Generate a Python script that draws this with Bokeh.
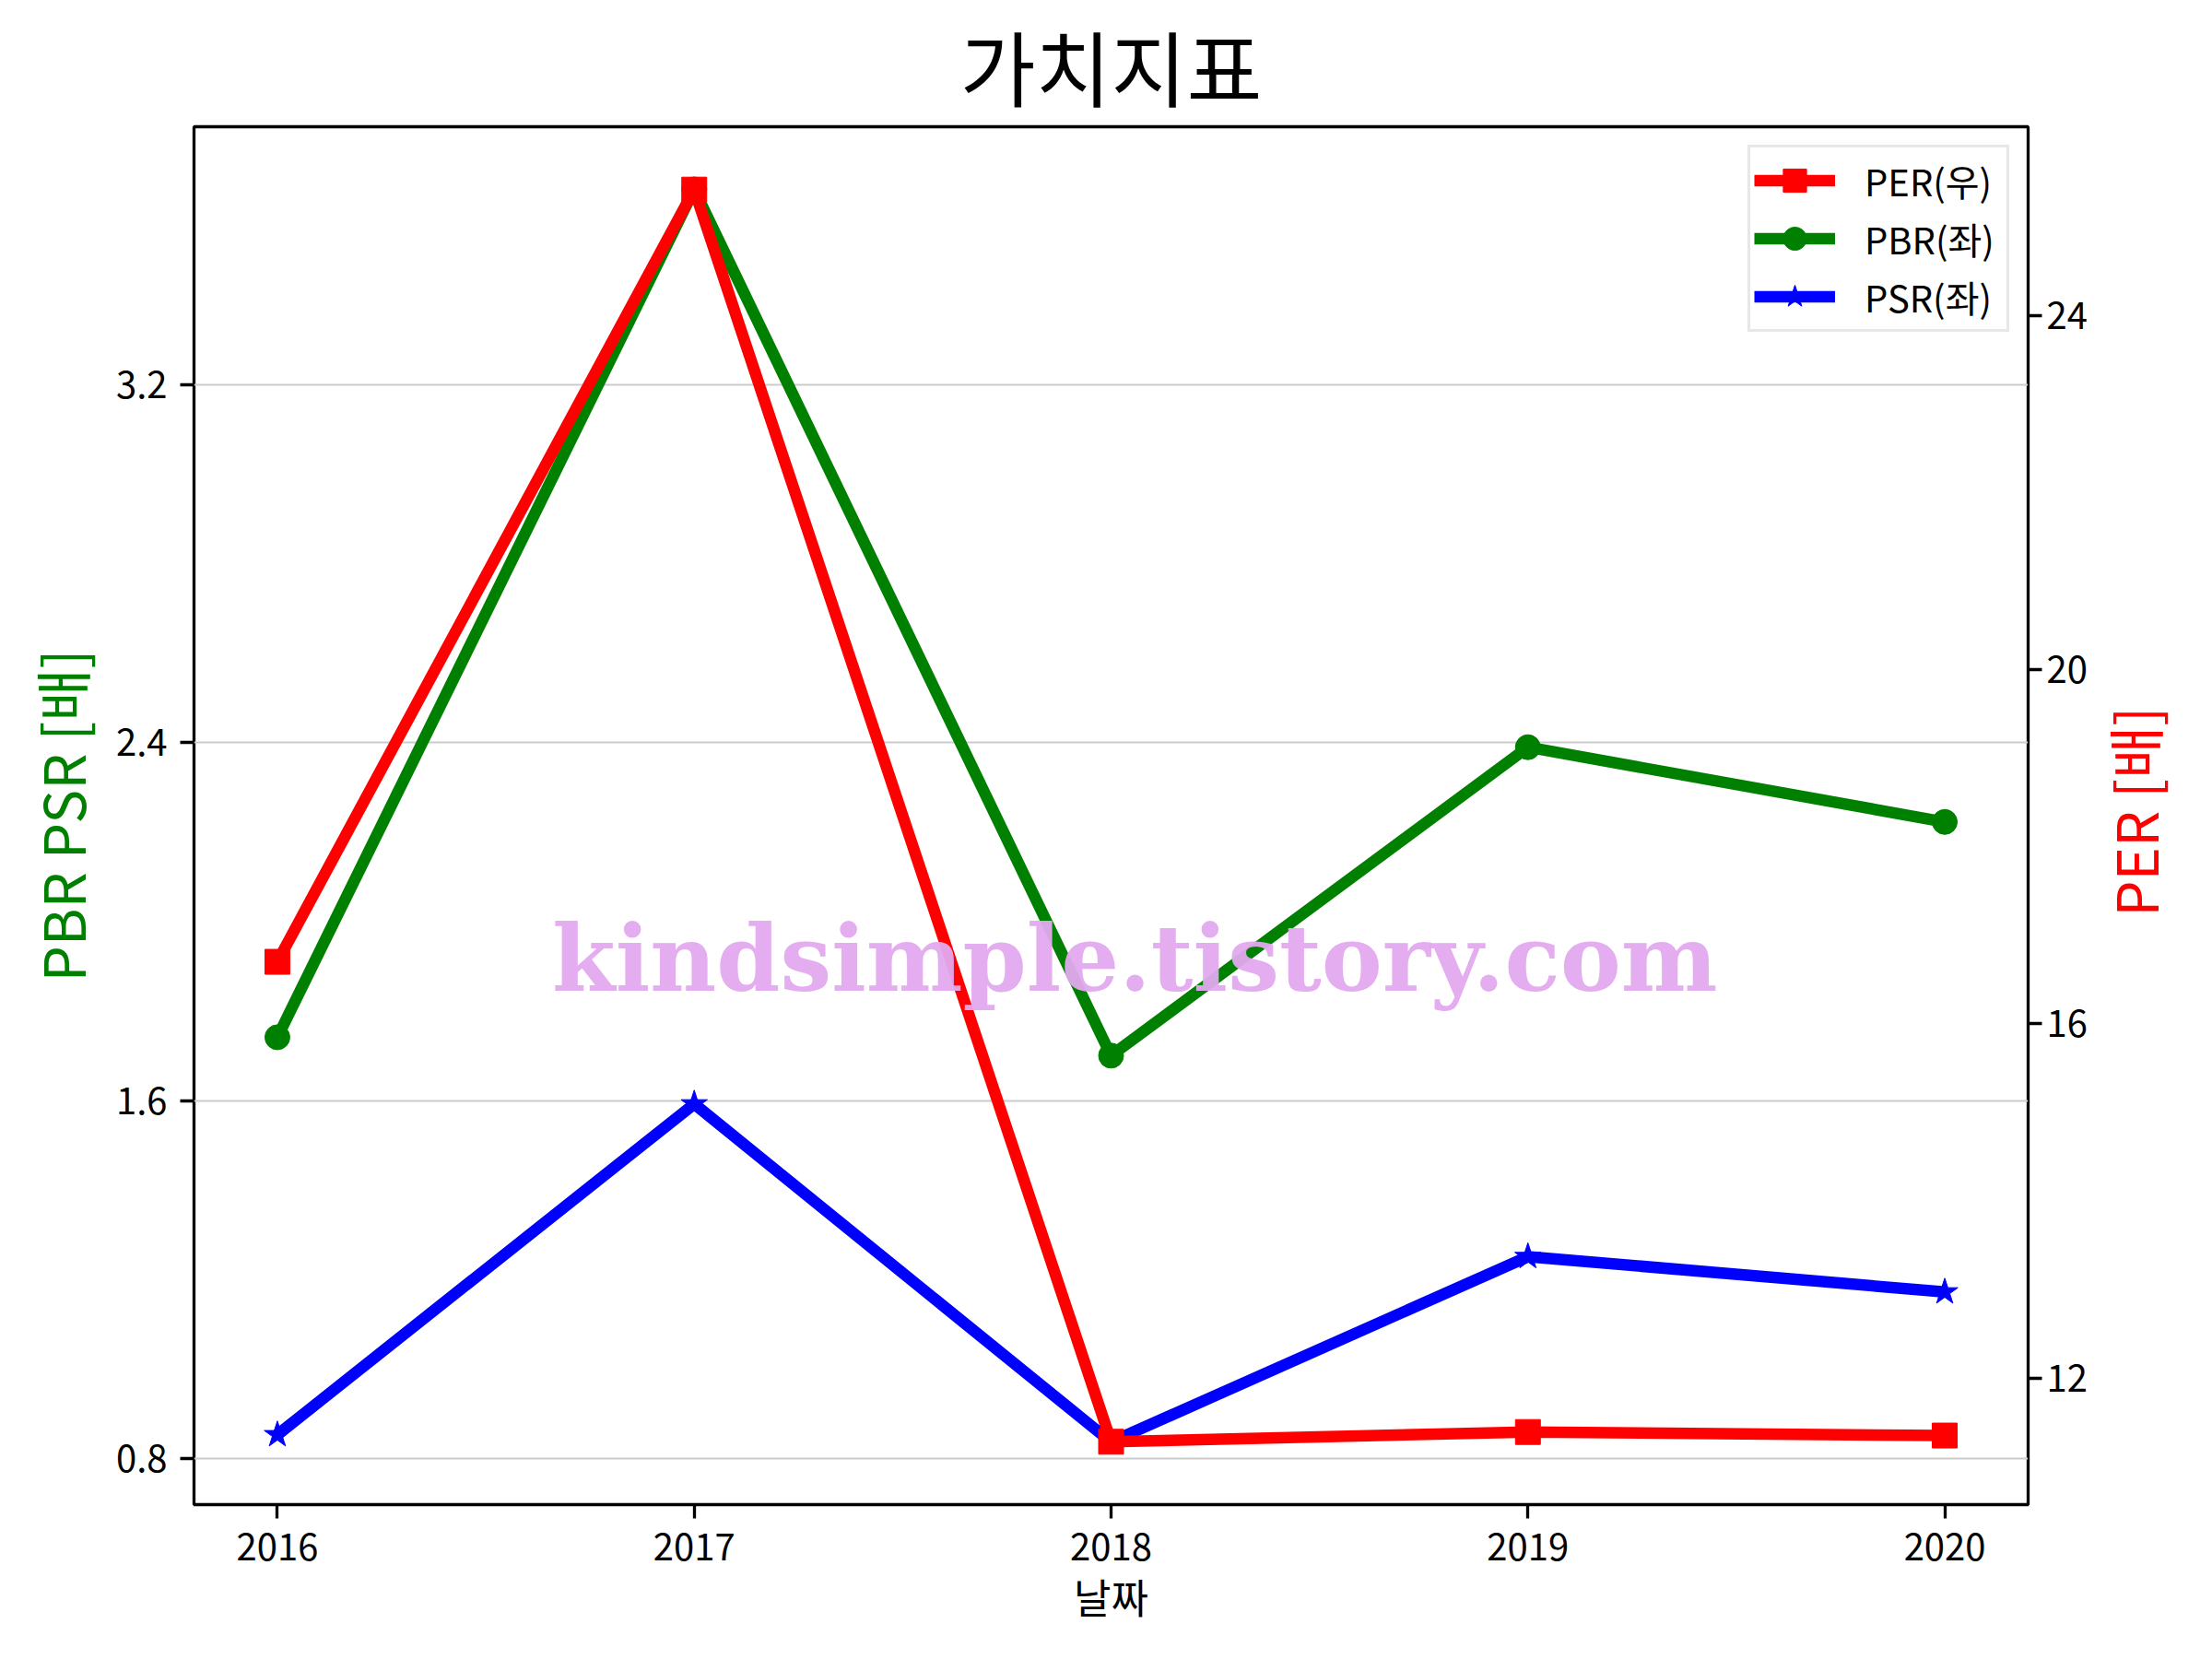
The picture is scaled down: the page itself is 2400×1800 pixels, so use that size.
import math
from bokeh.plotting import figure
from bokeh.layouts import row
from bokeh.models import Range1d, LinearAxis, FixedTicker, Legend, LegendItem, Label
from bokeh.embed import file_html
from bokeh.resources import INLINE

# ---- data ----
years = [2016, 2017, 2018, 2019, 2020]
per = [16.70, 25.42, 11.28, 11.39, 11.35]
pbr = [1.742, 3.636, 1.701, 2.390, 2.223]
psr = [0.854, 1.593, 0.838, 1.252, 1.173]
left_ticks = [0.8, 1.6, 2.4, 3.2]
right_ticks = [12, 16, 20, 24]
title_text = "가치지표"
x_label = "날짜"
left_label = "PBR PSR [배]"
right_label = "PER [배]"
legend_labels = ["PER(우)", "PBR(좌)", "PSR(좌)"]
watermark = "kindsimple.tistory.com"

FONT = "Noto Sans CJK KR"

X0, X1 = 2015.8, 2020.2
Y0, Y1 = 0.698, 3.776
H = 1796
MAIN_W = 2268
SIDE_W = 128

p = figure(width=MAIN_W, height=H, output_backend="svg", toolbar_location=None,
           x_range=Range1d(X0, X1), y_range=Range1d(Y0, Y1),
           min_border_left=210, min_border_right=MAIN_W - 2200, min_border_top=136,
           min_border_bottom=H - 1632, background_fill_color="white",
           border_fill_color="white")
p.extra_y_ranges = {"per": Range1d(10.57, 26.13)}

# title
p.title.text = title_text
p.title.text_font = FONT
p.title.text_font_size = "89px"
p.title.text_font_style = "normal"
p.title.text_color = "black"
p.title.align = "center"
p.title.standoff = 6

p.outline_line_color = "black"
p.outline_line_width = 3.3
p.outline_line_alpha = 1.0

def style_axis(ax, size="40px"):
    ax.axis_line_color = None
    ax.major_tick_out = 15
    ax.major_tick_in = 0
    ax.major_tick_line_width = 3.3
    ax.major_tick_line_color = "black"
    ax.minor_tick_line_color = None
    ax.major_label_text_font = FONT
    ax.major_label_text_font_size = size
    ax.major_label_text_color = "black"
    ax.major_label_standoff = 14
    ax.axis_label_text_font = FONT
    ax.axis_label_text_font_style = "normal"
    ax.axis_label_text_color = "black"

xa = p.xaxis[0]
style_axis(xa)
xa.ticker = FixedTicker(ticks=years)
xa.axis_label = x_label
xa.axis_label_text_font_size = "44px"
xa.axis_label_standoff = 4
xa.major_label_standoff = 16

ya = p.yaxis[0]
style_axis(ya)
ya.ticker = FixedTicker(ticks=left_ticks)
ya.axis_label = left_label
ya.axis_label_text_font_size = "62px"
ya.axis_label_text_color = "green"
ya.axis_label_standoff = 12

ra = LinearAxis(y_range_name="per", ticker=FixedTicker(ticks=right_ticks))
style_axis(ra)
ra.major_label_standoff = 5
p.add_layout(ra, "right")

p.xgrid.grid_line_color = None
p.ygrid.ticker = FixedTicker(ticks=left_ticks)
p.ygrid.grid_line_color = "#cccccc"
p.ygrid.grid_line_width = 2

# series
pbr_line = p.line(years, pbr, line_color="green", line_width=12.5, line_join="round")
pbr_pts = p.scatter(years, pbr, marker="circle", size=27, fill_color="green", line_color="green")
psr_line = p.line(years, psr, line_color="blue", line_width=12.5, line_join="round")
psr_pts = p.scatter(years, psr, marker="star", size=30, fill_color="blue", line_color="blue")
per_line = p.line(years, per, line_color="red", line_width=12.5, line_join="round", y_range_name="per")
per_pts = p.scatter(years, per, marker="square", size=27, fill_color="red", line_color="red", y_range_name="per")

wm = Label(x=2018.057, y=1.918, text=watermark, text_align="center", text_baseline="middle",
           text_font="DejaVu Serif", text_font_style="bold", text_font_size="99px",
           text_color="#E3A9EF", text_alpha=0.95)
p.add_layout(wm)

legend = Legend(items=[
    LegendItem(label=legend_labels[0], renderers=[per_line, per_pts]),
    LegendItem(label=legend_labels[1], renderers=[pbr_line, pbr_pts]),
    LegendItem(label=legend_labels[2], renderers=[psr_line, psr_pts]),
], location="top_right")
legend.margin = 20
legend.padding = 4
legend.spacing = 0
legend.glyph_width = 88
legend.glyph_height = 63
legend.label_height = 40
legend.label_width = 150
legend.label_standoff = 32
legend.label_text_font = FONT
legend.label_text_font_size = "40px"
legend.label_text_color = "black"
legend.border_line_color = "#d0d0d0"
legend.border_line_width = 3
legend.background_fill_alpha = 0.8
p.add_layout(legend)

# narrow side panel carrying the right axis title (reads bottom to top)
side = figure(width=SIDE_W, height=H, output_backend="svg", toolbar_location=None,
              x_range=Range1d(0, SIDE_W), y_range=Range1d(0, H),
              min_border=0, background_fill_color="white", border_fill_color="white")
side.axis.visible = False
side.grid.grid_line_color = None
side.outline_line_color = None
rlab = Label(x=1, y=H - 893, text=right_label, angle=math.pi / 2,
             text_align="center", text_baseline="top", text_font=FONT,
             text_font_size="62px", text_color="red")
side.add_layout(rlab)

layout = row(p, side)
open("out.html", "w").write(file_html(layout, INLINE))
